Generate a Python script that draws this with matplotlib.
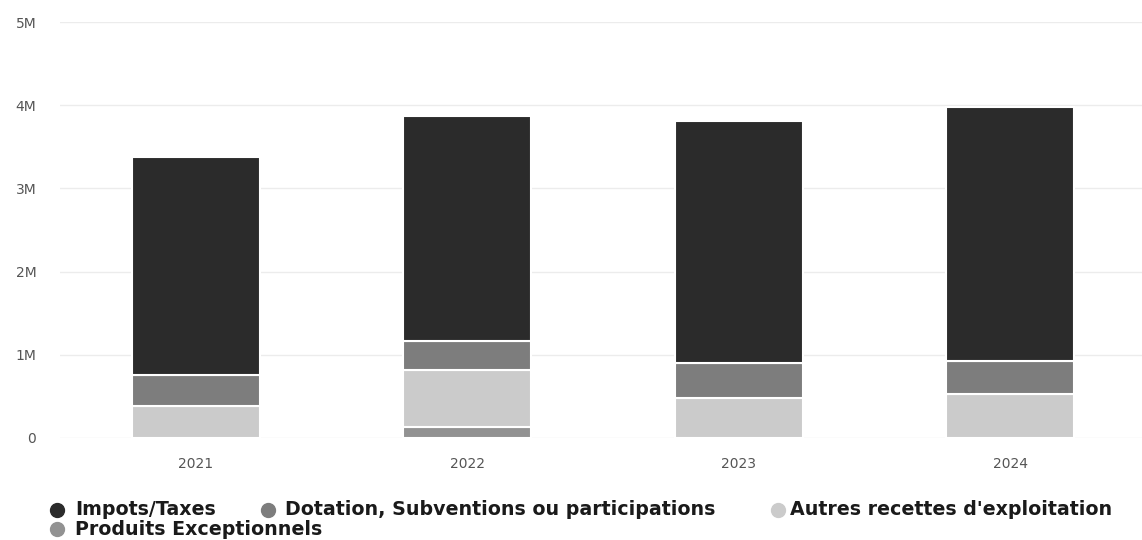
import matplotlib.pyplot as plt
from matplotlib.lines import Line2D
from matplotlib.ticker import FuncFormatter
import numpy as np

years = ['2021', '2022', '2023', '2024']
impots = [2620000, 2700000, 2910000, 3050000]
dotation = [380000, 350000, 420000, 400000]
autres = [380000, 690000, 480000, 530000]
produits = [0, 130000, 0, 0]

labels = ['Impots/Taxes', 'Dotation, Subventions ou participations',
          "Autres recettes d'exploitation", 'Produits Exceptionnels']
colors = ['#2b2b2b', '#7d7d7d', '#cbcbcb', '#929292']

fig = plt.figure(figsize=(11.42, 5.4), dpi=100)
ax = fig.add_axes([0.0525, 0.189, 0.951, 0.770])

x = np.arange(len(years))
w = 0.471
# stacked bottom -> top : produits, autres, dotation, impots
stack = [(produits, colors[3]), (autres, colors[2]), (dotation, colors[1]), (impots, colors[0])]
bottom = np.zeros(len(years))
for vals, c in stack:
    vals = np.array(vals, dtype=float)
    ax.bar(x, vals, w, bottom=bottom, color=c, edgecolor='white', linewidth=1.5, zorder=3)
    bottom += vals

ax.set_xlim(-0.5, 3.5)
ax.set_ylim(0, 5000000)
ax.set_yticks(np.arange(0, 5000001, 1000000))
ax.yaxis.set_major_formatter(FuncFormatter(lambda v, p: '0' if v == 0 else '%dM' % (v / 1e6)))
ax.set_xticks(x)
ax.set_xticklabels(years)
ax.grid(axis='y', color='#ececec', linewidth=1, zorder=0)
for s in ax.spines.values():
    s.set_visible(False)
ax.tick_params(axis='y', length=0, pad=17, labelsize=10, colors='#555555')
ax.tick_params(axis='x', length=0, pad=14, labelsize=10, colors='#555555')

# legend, laid out like the original (flowing rows)
items = [(0, 57, 75, 0.056), (1, 268, 285, 0.056), (2, 778, 790, 0.056), (3, 57, 75, 0.020)]
for i, cx, tx, fy in items:
    fig.add_artist(Line2D([cx / 1142], [fy], marker='o', markersize=10, color=colors[i],
                          linestyle='none', transform=fig.transFigure))
    fig.text(tx / 1142, fy, labels[i], fontsize=13.7, fontweight='bold', color='#1a1a1a',
             va='center', ha='left')

plt.savefig('out.png', dpi=100)
